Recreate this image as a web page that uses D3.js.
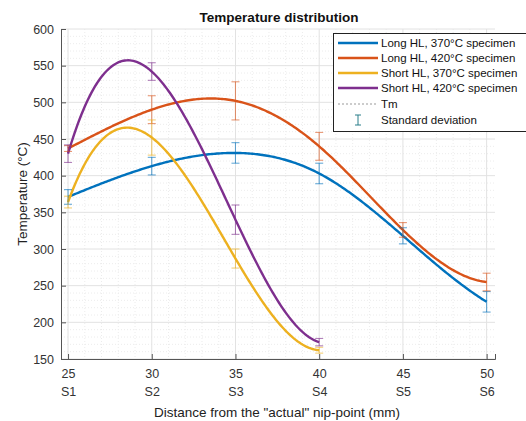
<!DOCTYPE html>
<html><head><meta charset="utf-8">
<script src="https://cdn.jsdelivr.net/npm/d3@7"></script>
<style>body{margin:0;background:#fff}svg{display:block;font-family:"Liberation Sans",Arial,sans-serif}</style>
</head><body>
<svg id="c" width="526" height="421"></svg>
<script>
const positions = [25, 30, 35, 40, 45, 50];
const sensorLabels = ["S1", "S2", "S3", "S4", "S5", "S6"];
const yTicks = [150, 200, 250, 300, 350, 400, 450, 500, 550, 600];
const seriesNames = ["Long HL, 370°C specimen", "Long HL, 420°C specimen", "Short HL, 370°C specimen", "Short HL, 420°C specimen"];
const seriesColors = ["#0072BD", "#D95319", "#EDB120", "#7E2F8E"];
const longHL370 = [371, 413, 431, 403, 318, 228];
const longHL420 = [437, 490, 502, 440, 326, 255];
const shortHL370 = [364, 452, 287, 162];
const shortHL420 = [430, 542, 340, 173];
const longHL370Sd = [10, 12, 14, 14, 11, 14];
const longHL420Sd = [4, 19, 26, 19, 10, 12];
const shortHL370Sd = [8, 24, 13, 4];
const shortHL420Sd = [12, 12, 20, 5];

const seriesValues = [longHL370, longHL420, shortHL370, shortHL420];
const seriesSd = [longHL370Sd, longHL420Sd, shortHL370Sd, shortHL420Sd];

const svg = d3.select("#c");
const x = d3.scaleLinear().domain([24.58, 50.5]).range([61, 495]);
const y = d3.scaleLinear().domain([150, 600]).range([359, 29]);

// minor grid
const g = svg.append("g");
for (let v = 25; v <= 50; v += 1) {
  if (v % 5 === 0) continue;
  g.append("line").attr("x1", x(v)).attr("x2", x(v)).attr("y1", y(600)).attr("y2", y(150))
    .attr("stroke", "#ececec").attr("stroke-width", 1).attr("stroke-dasharray", "1,2");
}
for (let v = 160; v < 600; v += 10) {
  if (v % 50 === 0) continue;
  g.append("line").attr("x1", x.range()[0]).attr("x2", x.range()[1]).attr("y1", y(v)).attr("y2", y(v))
    .attr("stroke", "#ececec").attr("stroke-width", 1).attr("stroke-dasharray", "1,2");
}
// major grid
positions.forEach(v => g.append("line").attr("x1", x(v)).attr("x2", x(v)).attr("y1", y(600)).attr("y2", y(150)).attr("stroke", "#e2e2e2"));
yTicks.forEach(v => g.append("line").attr("x1", x.range()[0]).attr("x2", x.range()[1]).attr("y1", y(v)).attr("y2", y(v)).attr("stroke", "#e2e2e2"));

// axes
const yAxis = svg.append("g").attr("transform", `translate(${x.range()[0]},0)`)
  .call(d3.axisLeft(y).tickValues(yTicks).tickSize(-5).tickPadding(7));
const xAxis = svg.append("g").attr("transform", `translate(0,${y(150)})`)
  .call(d3.axisBottom(x).tickValues(positions).tickSize(-5).tickPadding(10));
[yAxis, xAxis].forEach(a => {
  a.select(".domain").attr("stroke", "#555");
  a.selectAll(".tick line").attr("stroke", "#555");
  a.selectAll(".tick text").attr("fill", "#333").attr("font-size", 12.5).attr("font-family", "Liberation Sans, Arial, sans-serif");
});
xAxis.selectAll(".tick text").each(function(d, i) {
  const t = d3.select(this);
  t.text(null);
  t.append("tspan").attr("x", 0).text(d);
  t.append("tspan").attr("x", 0).attr("dy", "1.45em").text(sensorLabels[i]);
});

// not-a-knot cubic spline (Matlab spline) to render smooth curves through the points
function spline(xs, ys) {
  const n = xs.length;
  if (n <= 4) {
    return t => {
      let s = 0;
      for (let i = 0; i < n; i++) {
        let p = ys[i];
        for (let j = 0; j < n; j++) if (j !== i) p *= (t - xs[j]) / (xs[i] - xs[j]);
        s += p;
      }
      return s;
    };
  }
  const h = [];
  for (let i = 0; i < n - 1; i++) h.push(xs[i + 1] - xs[i]);
  const A = Array.from({length: n}, () => new Array(n).fill(0));
  const b = new Array(n).fill(0);
  A[0][0] = h[1]; A[0][1] = -(h[0] + h[1]); A[0][2] = h[0];
  A[n-1][n-3] = h[n-2]; A[n-1][n-2] = -(h[n-3] + h[n-2]); A[n-1][n-1] = h[n-3];
  for (let i = 1; i < n - 1; i++) {
    A[i][i-1] = h[i-1]; A[i][i] = 2 * (h[i-1] + h[i]); A[i][i+1] = h[i];
    b[i] = 6 * ((ys[i+1] - ys[i]) / h[i] - (ys[i] - ys[i-1]) / h[i-1]);
  }
  for (let k = 0; k < n; k++) {
    let piv = k;
    for (let r = k + 1; r < n; r++) if (Math.abs(A[r][k]) > Math.abs(A[piv][k])) piv = r;
    [A[k], A[piv]] = [A[piv], A[k]]; [b[k], b[piv]] = [b[piv], b[k]];
    for (let r = k + 1; r < n; r++) {
      const f = A[r][k] / A[k][k];
      for (let c = k; c < n; c++) A[r][c] -= f * A[k][c];
      b[r] -= f * b[k];
    }
  }
  const M = new Array(n).fill(0);
  for (let k = n - 1; k >= 0; k--) {
    let s = b[k];
    for (let c = k + 1; c < n; c++) s -= A[k][c] * M[c];
    M[k] = s / A[k][k];
  }
  return t => {
    let i = Math.min(n - 2, Math.max(0, d3.bisectRight(xs, t) - 1));
    const a = xs[i + 1] - t, c = t - xs[i], hi = h[i];
    return M[i] * a*a*a / (6*hi) + M[i+1] * c*c*c / (6*hi)
      + (ys[i] / hi - M[i] * hi / 6) * a + (ys[i+1] / hi - M[i+1] * hi / 6) * c;
  };
}

const line = d3.line().x(d => x(d[0])).y(d => y(d[1]));
seriesValues.forEach((vals, si) => {
  const xs = positions.slice(0, vals.length);
  const f = spline(xs, vals);
  const pts = d3.range(xs[0], xs[xs.length - 1] + 0.001, 0.1).map(t => [t, f(t)]);
  svg.append("path").attr("d", line(pts)).attr("fill", "none")
    .attr("stroke", seriesColors[si]).attr("stroke-width", 2.4);
});
// error bars
seriesValues.forEach((vals, si) => {
  const eg = svg.append("g").attr("stroke", seriesColors[si]).attr("stroke-opacity", 0.6).attr("stroke-width", 1.1);
  vals.forEach((v, i) => {
    const sd = seriesSd[si][i], px = x(positions[i]);
    eg.append("line").attr("x1", px).attr("x2", px).attr("y1", y(v - sd)).attr("y2", y(v + sd));
    eg.append("line").attr("x1", px - 4).attr("x2", px + 4).attr("y1", y(v - sd)).attr("y2", y(v - sd));
    eg.append("line").attr("x1", px - 4).attr("x2", px + 4).attr("y1", y(v + sd)).attr("y2", y(v + sd));
  });
});

// labels
svg.append("text").attr("x", 279).attr("y", 22).attr("text-anchor", "middle")
  .attr("font-size", 13.5).attr("font-weight", "bold").attr("fill", "#111").text("Temperature distribution");
svg.append("text").attr("x", 277).attr("y", 417).attr("text-anchor", "middle")
  .attr("font-size", 13.5).attr("fill", "#222").text('Distance from the "actual" nip-point (mm)');
svg.append("text").attr("transform", "translate(27,194) rotate(-90)").attr("text-anchor", "middle")
  .attr("font-size", 13.5).attr("fill", "#222").text("Temperature (°C)");

// legend
const lg = svg.append("g");
lg.append("rect").attr("x", 333.5).attr("y", 33.5).attr("width", 200).attr("height", 98)
  .attr("fill", "#fff").attr("stroke", "#222").attr("stroke-width", 1);
const rowY = [43, 58, 73, 88, 104, 120];
seriesNames.forEach((nm, i) => {
  lg.append("line").attr("x1", 338).attr("x2", 378).attr("y1", rowY[i]).attr("y2", rowY[i])
    .attr("stroke", seriesColors[i]).attr("stroke-width", 2.4);
  lg.append("text").attr("x", 381).attr("y", rowY[i] + 4).attr("font-size", 11.5).attr("fill", "#111").text(nm);
});
lg.append("line").attr("x1", 338).attr("x2", 378).attr("y1", rowY[4]).attr("y2", rowY[4])
  .attr("stroke", "#999").attr("stroke-width", 1).attr("stroke-dasharray", "2,2");
lg.append("text").attr("x", 381).attr("y", rowY[4] + 4).attr("font-size", 11.5).attr("fill", "#111").text("Tm");
const ex = 358;
lg.append("g").attr("stroke", "#2a7f8a").attr("stroke-width", 1).call(s => {
  s.append("line").attr("x1", ex).attr("x2", ex).attr("y1", rowY[5] - 5).attr("y2", rowY[5] + 5);
  s.append("line").attr("x1", ex - 3).attr("x2", ex + 3).attr("y1", rowY[5] - 5).attr("y2", rowY[5] - 5);
  s.append("line").attr("x1", ex - 3).attr("x2", ex + 3).attr("y1", rowY[5] + 5).attr("y2", rowY[5] + 5);
});
lg.append("text").attr("x", 381).attr("y", rowY[5] + 4).attr("font-size", 11.5).attr("fill", "#111").text("Standard deviation");
</script>
</body></html>
